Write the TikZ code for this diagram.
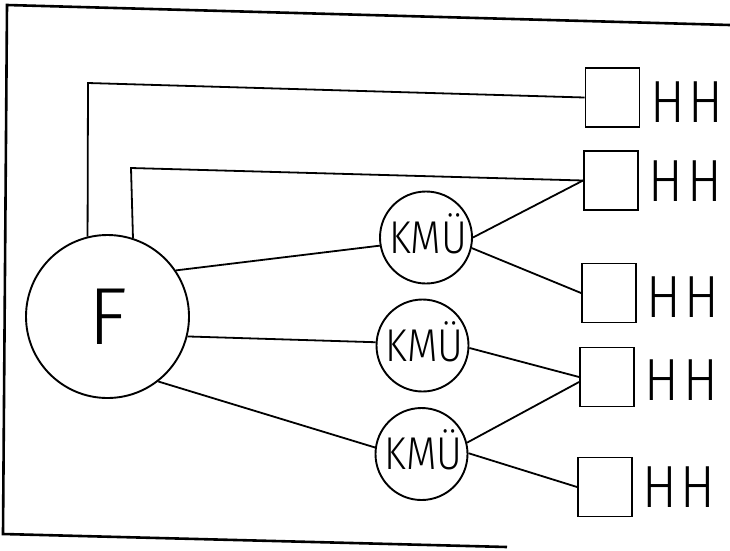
\documentclass[tikz,border=0pt]{standalone}
\usepackage{fontspec}
\usepackage{graphicx}
\IfFontExistsTF{Fira Sans Light}
  {\newfontfamily\thinfont{Fira Sans Light}}
  {\IfFontExistsTF{Open Sans Light}
    {\newfontfamily\thinfont{Open Sans Light}}
    {\newfontfamily\thinfont{Fira Sans}}}
\begin{document}
\begin{tikzpicture}[x=1pt,y=-1pt,line width=1.9pt,
  hub/.style={circle,draw,minimum size=163pt,inner sep=0pt,
    font=\thinfont\fontsize{81}{81}\selectfont,text height=55.8pt,text depth=0pt},
  kmu/.style={circle,draw,minimum size=92pt,inner sep=0pt,
    font=\thinfont\fontsize{46}{46}\selectfont,text height=31.7pt,text depth=0pt},
  box/.style={rectangle,draw,minimum width=54pt,minimum height=59pt,inner sep=0pt},
  hh/.style={inner sep=0pt,font=\thinfont\fontsize{59.5}{59.5}\selectfont,
    text height=41pt,text depth=0pt},
  wire/.style={line width=1.8pt},
  frame/.style={line width=2.6pt}]
\useasboundingbox (0,0) rectangle (730,550);
% frame
\draw[frame] (730,25) -- (7,5) -- (3,534) -- (507,547);
% nodes
\node[hub] (F) at (107.5,316.5) {F};
\node[kmu] (K1) at (426,237.5) {\hspace*{4pt}\scalebox{0.86}[1]{KMÜ}};
\node[kmu] (K2) at (422.5,345.5) {\hspace*{4pt}\scalebox{0.86}[1]{KMÜ}};
\node[kmu] (K3) at (421.5,454) {\hspace*{4pt}\scalebox{0.86}[1]{KMÜ}};
\node[box] (S1) at (612.5,97.5) {};
\node[box] (S2) at (611,180.5) {};
\node[box] (S3) at (609,293) {};
\node[box] (S4) at (607,377) {};
\node[box] (S5) at (605,487) {};
\node[hh] (H1) at (687,101.5) {\scalebox{0.87}[1]{H\kern4.5pt H}};
\node[hh] (H2) at (685.5,180.5) {\scalebox{0.87}[1]{H\kern4.5pt H}};
\node[hh] (H3) at (683,296.5) {\scalebox{0.87}[1]{H\kern4.5pt H}};
\node[hh] (H4) at (681.5,380) {\scalebox{0.87}[1]{H\kern4.5pt H}};
\node[hh] (H5) at (679,487) {\scalebox{0.87}[1]{H\kern4.5pt H}};
% corners
\coordinate (c1) at (88,83);
\coordinate (c2) at (131,168);
% connectors
\draw[wire] (F.104) -- (c1) -- (S1.west);
\draw[wire] (F.72.5) -- (c2) -- (S2.west);
\draw[wire] (F.34.7) -- (K1.190.5);
\draw[wire] (F.-14.4) -- (K2.176.9);
\draw[wire] (F.-52.4) -- (K3.172.3);
\draw[wire] (K1.0.6) -- (S2.west);
\draw[wire] (K1.-13) -- (S3.west);
\draw[wire] (K2.-3) -- (S4.west);
\draw[wire] (K3.14.8) -- ([yshift=-5pt]S4.west);
\draw[wire] (K3.1) -- (S5.west);
\end{tikzpicture}
\end{document}
